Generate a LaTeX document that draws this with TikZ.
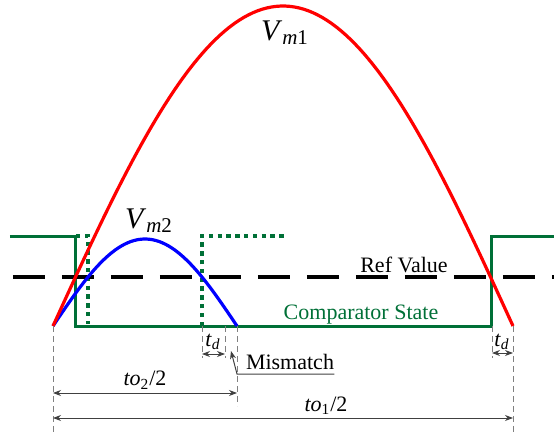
\documentclass[tikz,border=0pt]{standalone}
\usepackage{fontspec}
\setmainfont{Liberation Serif}
\usepackage{xcolor}
\usetikzlibrary{arrows.meta}
\definecolor{compgreen}{RGB}{0,112,55}

\begin{document}
\begin{tikzpicture}[
  x=0.5pt,y=-0.5pt,
  font=\fontsize{11}{13}\selectfont,
  wave/.style={line width=1.6pt,line join=round},
  comp/.style={line width=1.5pt,draw=compgreen},
  compdot/.style={comp,line width=1.6pt,dash pattern=on 2.2pt off 2.2pt},
  refline/.style={line width=1.6pt,dash pattern=on 16pt off 8.5pt},
  ext/.style={draw=gray,line width=0.45pt,dash pattern=on 3pt off 2pt},
  dim/.style={draw=black!75,line width=0.5pt,{Stealth[length=4pt,width=3pt]}-{Stealth[length=4pt,width=3pt]}},
  lbl/.style={inner sep=0pt,anchor=base},
  big/.style={lbl,font=\fontsize{15}{17}\selectfont}
]
\useasboundingbox (0,0) rectangle (554,434);
\coordinate (o) at (53,326);
\coordinate (end2) at (237,326);
\coordinate (end1) at (513,326);
\coordinate (swup) at (492,326);
\coordinate (dotup) at (202,326);
\coordinate (tdtwo) at (225,326);
% comparator state
\draw[comp] (10,236) -- (76,236) -- (76,326) -- (swup) -- (492,236) -- (554,236);
\draw[compdot] (76,236) -- (88,236) -- (88,324);
\draw[compdot] (dotup) -- (202,236) -- (285,236);
% reference level
\draw[refline] (13,277) -- (554,277);
% waves
\draw[wave,blue] plot[domain=53:237,samples=60] (\x,{326-87*sin((\x-53)/184*180)});
\draw[wave,red] plot[domain=53:513,samples=100] (\x,{326-320*sin((\x-53)/460*180)});
\node[big] (vmone) at (285,40) {\textit{V}\textsubscript{\textit{m}1}};
\node[big] (vmtwo) at (149,228) {\textit{V}\textsubscript{\textit{m}2}};
\node[lbl] (refval) at (404,272) {Ref Value};
\node[lbl,text=compgreen] (compstate) at (361,320) {Comparator State};
% dimensions
\draw[ext] (o) -- ++(0,108);
\draw[ext] (end2) -- ++(0,80);
\draw[ext] (end1) -- ++(0,108);
\draw[ext] (dotup) -- ++(0,32);
\draw[ext] (tdtwo) -- ++(0,32);
\draw[ext] (swup) -- ++(0,32);
\draw[dim] (202,354) -- (225,354);
\draw[dim] (492,353) -- (513,353);
\draw[dim] (53,393) -- (237,393);
\draw[dim] (53,418) -- (513,418);
\node[lbl] (tdleft) at (213,346) {\textit{t}\textsubscript{\textit{d}}};
\node[lbl] (tdright) at (502,346) {\textit{t}\textsubscript{\textit{d}}};
\node[lbl] (totwo) at (145,386) {\textit{to}\textsubscript{2}/2};
\node[lbl] (toone) at (326,411) {\textit{to}\textsubscript{1}/2};
\node[lbl] (mismatch) at (290,370) {Mismatch};
\coordinate (mmknee) at (237,374);
\draw[black!75,line width=0.5pt,-{Stealth[length=4pt,width=3pt]}] (mmknee -| mismatch.east) -- (mmknee) -- (231,351);
\end{tikzpicture}
\end{document}
